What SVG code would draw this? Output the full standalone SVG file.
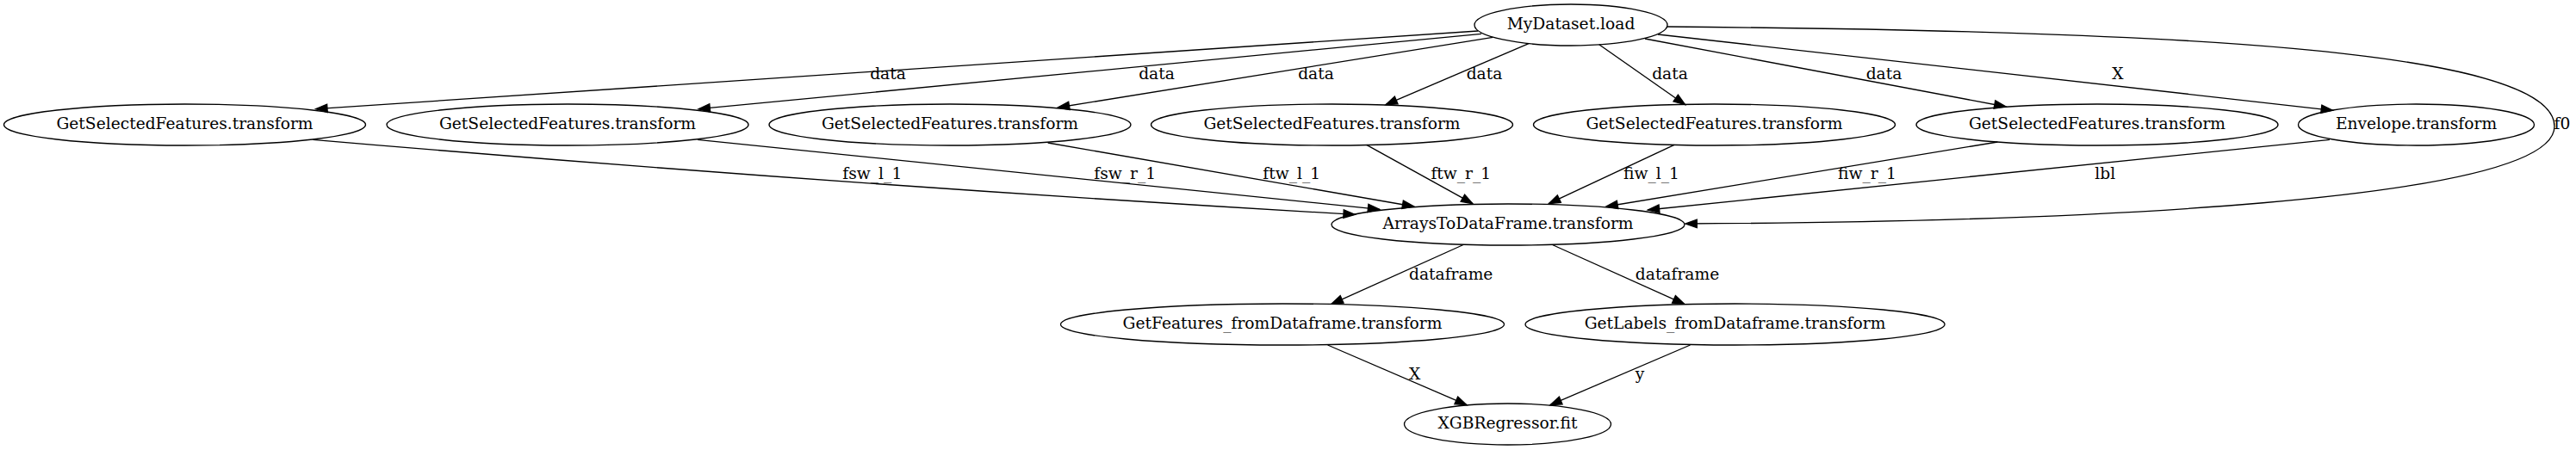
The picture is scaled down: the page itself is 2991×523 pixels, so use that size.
<svg xmlns="http://www.w3.org/2000/svg" width="2991" height="523" viewBox="0 0 2991 523">
<style>
  .node ellipse { fill: none; stroke: #000; stroke-width: 1.33; }
  .node text, .lbl { font-family: "DejaVu Serif", serif; font-size: 18.67px; fill: #000; }
  .node text { text-anchor: middle; }
  .lbl { text-anchor: middle; }
  .edge { fill: none; stroke: #000; stroke-width: 1.33; marker-end: url(#ah); }
</style>
<defs>
  <marker id="ah" markerUnits="userSpaceOnUse" markerWidth="16" markerHeight="12" refX="13.8" refY="5.3" orient="auto" overflow="visible">
    <path d="M0.5,0.6 L13.8,5.3 L0.5,10 z" fill="#000" stroke="#000" stroke-width="1.33"/>
  </marker>
</defs>
<rect x="0" y="0" width="2991" height="523" fill="#fff"/>

<g id="edges">
  <path class="edge" d="M1716,36 L366.7,126.7"/>
  <path class="edge" d="M1720,39.3 L811,126.7"/>
  <path class="edge" d="M1733.3,43.3 L1228.3,125"/>
  <path class="edge" d="M1775,50.7 L1609,121.7"/>
  <path class="edge" d="M1856.7,51.7 L1956.6,121.7"/>
  <path class="edge" d="M1910,45 L2329,124"/>
  <path class="edge" d="M1925,40 L2708.5,128.3"/>
  <path class="edge" d="M1936,31 C2500,36 2966,55 2966,147 C2966,235 2400,258 1957,260"/>
  <path class="edge" d="M363.5,162.3 C766,197 1170,226 1573.3,249.3"/>
  <path class="edge" d="M810,162.3 L1601.7,243.3"/>
  <path class="edge" d="M1216.7,166 L1641.7,240"/>
  <path class="edge" d="M1586.7,168.3 L1710,236.7"/>
  <path class="edge" d="M1944,168.3 L1798.3,236.7"/>
  <path class="edge" d="M2319.4,165 L1865,240"/>
  <path class="edge" d="M2705,162.3 L1913.3,244"/>
  <path class="edge" d="M1699,284.5 L1546,353.3"/>
  <path class="edge" d="M1802.5,284.5 L1955.6,353.3"/>
  <path class="edge" d="M1541.6,401 L1703,470.7"/>
  <path class="edge" d="M1962.5,401 L1800,470.7"/>

  <text class="lbl" x="1031" y="91.5">data</text>
  <text class="lbl" x="1343" y="91.5">data</text>
  <text class="lbl" x="1528" y="91.5">data</text>
  <text class="lbl" x="1723.5" y="91.5">data</text>
  <text class="lbl" x="1939" y="91.5">data</text>
  <text class="lbl" x="2187.5" y="91.5">data</text>
  <text class="lbl" x="2459" y="91.5">X</text>
  <text class="lbl" x="2975" y="150">f0</text>
  <text class="lbl" x="1012.8" y="207.5">fsw_l_1</text>
  <text class="lbl" x="1306.3" y="207.5">fsw_r_1</text>
  <text class="lbl" x="1499.8" y="207.5">ftw_l_1</text>
  <text class="lbl" x="1696.3" y="207.5">ftw_r_1</text>
  <text class="lbl" x="1917.5" y="207.5">fiw_l_1</text>
  <text class="lbl" x="2168" y="207.5">fiw_r_1</text>
  <text class="lbl" x="2444.3" y="207.5">lbl</text>
  <text class="lbl" x="1684.7" y="325">dataframe</text>
  <text class="lbl" x="1947.5" y="325">dataframe</text>
  <text class="lbl" x="1642.6" y="441">X</text>
  <text class="lbl" x="1903.9" y="441">y</text>
</g>

<g id="n_mydataset_load" class="node"><ellipse cx="1824" cy="29" rx="112" ry="24"/><text x="1824" y="34">MyDataset.load</text></g>
<g id="n_gsf_1" class="node"><ellipse cx="214.5" cy="145" rx="210" ry="24"/><text x="214.5" y="150">GetSelectedFeatures.transform</text></g>
<g id="n_gsf_2" class="node"><ellipse cx="659" cy="145" rx="210" ry="24"/><text x="659" y="150">GetSelectedFeatures.transform</text></g>
<g id="n_gsf_3" class="node"><ellipse cx="1103" cy="145" rx="210" ry="24"/><text x="1103" y="150">GetSelectedFeatures.transform</text></g>
<g id="n_gsf_4" class="node"><ellipse cx="1546.5" cy="145" rx="210" ry="24"/><text x="1546.5" y="150">GetSelectedFeatures.transform</text></g>
<g id="n_gsf_5" class="node"><ellipse cx="1990.5" cy="145" rx="210" ry="24"/><text x="1990.5" y="150">GetSelectedFeatures.transform</text></g>
<g id="n_gsf_6" class="node"><ellipse cx="2435" cy="145" rx="210" ry="24"/><text x="2435" y="150">GetSelectedFeatures.transform</text></g>
<g id="n_envelope" class="node"><ellipse cx="2805.5" cy="145" rx="137" ry="24"/><text x="2805.5" y="150">Envelope.transform</text></g>
<g id="n_arrays" class="node"><ellipse cx="1751" cy="261" rx="205" ry="24"/><text x="1751" y="266">ArraysToDataFrame.transform</text></g>
<g id="n_getfeatures" class="node"><ellipse cx="1489" cy="377" rx="257.5" ry="24"/><text x="1489" y="382">GetFeatures_fromDataframe.transform</text></g>
<g id="n_getlabels" class="node"><ellipse cx="2014.5" cy="377" rx="243.5" ry="24"/><text x="2014.5" y="382">GetLabels_fromDataframe.transform</text></g>
<g id="n_xgb" class="node"><ellipse cx="1750.5" cy="493" rx="120" ry="24"/><text x="1750.5" y="498">XGBRegressor.fit</text></g>
</svg>
